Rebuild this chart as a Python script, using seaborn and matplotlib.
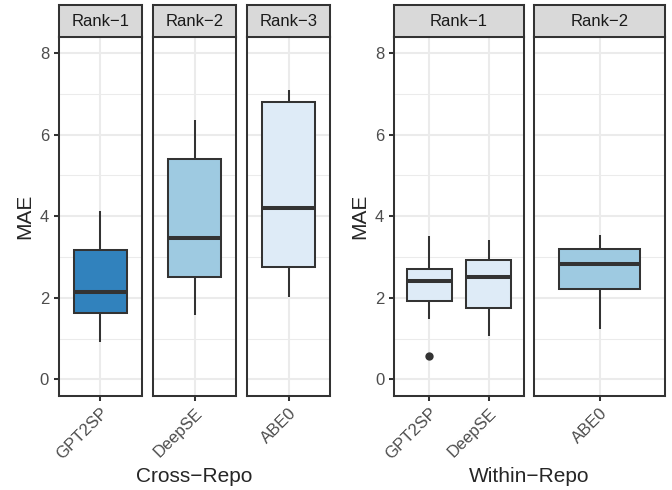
import pandas as pd
import numpy as np
import matplotlib
matplotlib.use("Agg")
import matplotlib.pyplot as plt
import seaborn as sns

# box statistics: [lower whisker, Q1, median, Q3, upper whisker]
cross_models = ["GPT2SP", "DeepSE", "ABE0"]
cross_ranks = ["Rank\u22121", "Rank\u22122", "Rank\u22123"]
cross_gpt2sp = [0.92, 1.63, 2.14, 3.16, 4.13]
cross_deepse = [1.57, 2.52, 3.47, 5.41, 6.35]
cross_abe0 = [2.03, 2.76, 4.19, 6.81, 7.09]

within_ranks = ["Rank\u22121", "Rank\u22122"]
within_rank_models = [["GPT2SP", "DeepSE"], ["ABE0"]]
within_gpt2sp = [1.47, 1.91, 2.41, 2.70, 3.51]
within_deepse = [1.06, 1.76, 2.52, 2.92, 3.41]
within_abe0 = [1.23, 2.21, 2.82, 3.19, 3.55]
within_fliers_model = ["GPT2SP"]
within_fliers_mae = [0.57]

dark, mid, light = "#3182BD", "#9ECAE1", "#DEEBF7"
cross_colors = {"GPT2SP": dark, "DeepSE": mid, "ABE0": light}
within_colors = {"GPT2SP": light, "DeepSE": light, "ABE0": mid}

rows = []
for m, vals in zip(cross_models, [cross_gpt2sp, cross_deepse, cross_abe0]):
    for v in vals:
        rows.append(("Cross", m, v))
for m, vals in zip(["GPT2SP", "DeepSE", "ABE0"], [within_gpt2sp, within_deepse, within_abe0]):
    for v in vals:
        rows.append(("Within", m, v))
df = pd.DataFrame(rows, columns=["setting", "model", "MAE"])
fliers = pd.DataFrame({"model": within_fliers_model, "MAE": within_fliers_mae})

sns.set_style("ticks")
plt.rcParams["font.family"] = ["Liberation Sans", "DejaVu Sans"]

W, H = 672, 490
fig = plt.figure(figsize=(W / 100, H / 100), dpi=100)

def rect(x0, y0, x1, y1):
    return [x0 / W, 1 - y1 / H, (x1 - x0) / W, (y1 - y0) / H]

LW = 1.46
EDGE = "#333333"
STRIP_TOP, PANEL_TOP, PANEL_BOT = 5.3, 36.7, 395.7

def draw_panel(x0, x1, sub, order, colors, rank, first, flier_df=None):
    ax = fig.add_axes(rect(x0, PANEL_TOP, x1, PANEL_BOT))
    sns.boxplot(data=sub, x="model", y="MAE", order=order, hue="model",
                palette={m: colors[m] for m in order}, legend=False,
                width=0.75, saturation=1, linecolor=EDGE, linewidth=LW,
                medianprops={"linewidth": 2.9}, showcaps=False,
                fliersize=0, ax=ax)
    if flier_df is not None:
        sns.stripplot(data=flier_df, x="model", y="MAE", order=order,
                      jitter=False, color=EDGE, size=6, linewidth=0, ax=ax)
    ax.set_xlim(-0.6, len(order) - 1 + 0.6)
    ax.set_ylim(-0.4, 8.4)
    ax.set_yticks([0, 2, 4, 6, 8])
    ax.set_yticks([1, 3, 5, 7], minor=True)
    ax.set_xticks(range(len(order)))
    ax.set_xticklabels(order, rotation=45, ha="right", rotation_mode="anchor")
    ax.grid(which="major", color="#EBEBEB", lw=LW)
    ax.grid(which="minor", axis="y", color="#EBEBEB", lw=0.73)
    ax.set_axisbelow(True)
    for s in ax.spines.values():
        s.set_visible(True)
        s.set_color(EDGE)
        s.set_linewidth(LW)
    ax.tick_params(which="major", length=3.8, width=LW, color=EDGE,
                   labelcolor="#4D4D4D", labelsize=12, pad=3)
    ax.tick_params(which="minor", length=0)
    if not first:
        ax.tick_params(axis="y", left=False, labelleft=False)
    ax.set_xlabel("")
    ax.set_ylabel("")
    # strip
    st = fig.add_axes(rect(x0, STRIP_TOP, x1, PANEL_TOP))
    st.set_facecolor("#D9D9D9")
    st.set_xticks([])
    st.set_yticks([])
    for s in st.spines.values():
        s.set_color(EDGE)
        s.set_linewidth(LW)
    st.text(0.5, 0.5, rank, ha="center", va="center", fontsize=12,
            color="#1A1A1A", transform=st.transAxes)
    return ax

cross_x = [(58.5, 142.3), (152.7, 236.3), (246.7, 330.3)]
cross_df = df[df.setting == "Cross"]
for i, (m, r) in enumerate(zip(cross_models, cross_ranks)):
    x0, x1 = cross_x[i]
    draw_panel(x0, x1, cross_df[cross_df.model == m], [m], cross_colors, r, i == 0)

within_x = [(393.7, 524.3), (534.3, 664.7)]
within_df = df[df.setting == "Within"]
for i, (models, r) in enumerate(zip(within_rank_models, within_ranks)):
    x0, x1 = within_x[i]
    fl = fliers[fliers.model.isin(models)]
    draw_panel(x0, x1, within_df[within_df.model.isin(models)], models,
               within_colors, r, i == 0, fl if len(fl) else None)

fig.text(25 / W, 1 - 216 / H, "MAE", rotation=90, ha="center", va="center", fontsize=15)
fig.text(360 / W, 1 - 216 / H, "MAE", rotation=90, ha="center", va="center", fontsize=15)
fig.text(194.4 / W, 1 - 476 / H, "Cross\u2212Repo", ha="center", va="center", fontsize=15)
fig.text(529.2 / W, 1 - 476 / H, "Within\u2212Repo", ha="center", va="center", fontsize=15)

fig.savefig("out.png", dpi=100)
